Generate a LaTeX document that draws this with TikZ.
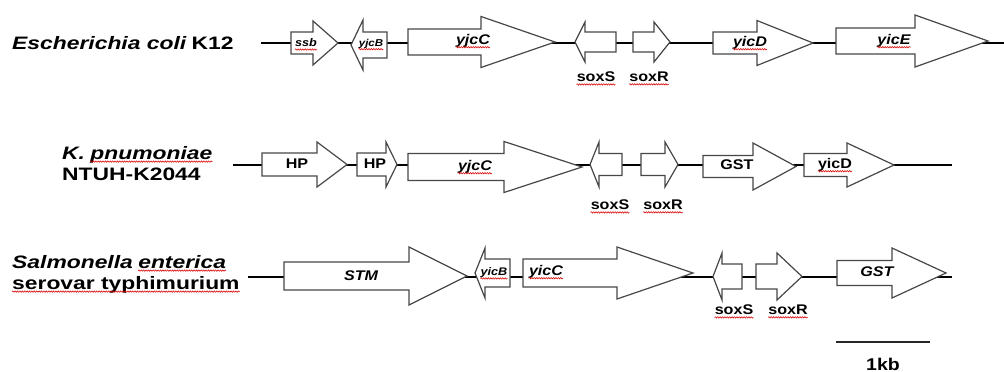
\documentclass[tikz,border=0pt]{standalone}
\usepackage{fontspec}
\setmainfont{Liberation Sans}
\newfontfamily\orgfont[FakeStretch=1.27]{Liberation Sans}
\newfontfamily\genefont[FakeStretch=1.15]{Liberation Sans}
\usetikzlibrary{decorations.pathmorphing}

\tikzset{
  backbone/.style={line width=2.5pt, draw=black},
  genebox/.style={draw=black!72, fill=white, line width=1.2pt, line join=miter},
  orglab/.style={inner sep=0pt, anchor=base west, font=\orgfont\bfseries\fontsize{18}{20}\selectfont},
  glab/.style={inner sep=0pt, font=\genefont\bfseries\fontsize{14}{16}\selectfont},
  glabi/.style={inner sep=0pt, font=\genefont\bfseries\itshape\fontsize{14}{16}\selectfont},
  glabs/.style={inner sep=0pt, font=\genefont\bfseries\itshape\fontsize{11}{13}\selectfont},
  squiggle/.style={draw=red!85!black, line width=0.55pt, decorate,
    decoration={snake, amplitude=0.7pt, segment length=2.4pt}},
  scalebar/.style={line width=2.6pt, draw=black!85}
}

% gene arrow: body end x, head base x, tip x, axis y, half body height, half head height
\newcommand\gene[6]{%
  \draw[genebox] ({#1},{#4-#5}) -- ({#2},{#4-#5}) -- ({#2},{#4-#6}) -- ({#3},{#4})
    -- ({#2},{#4+#6}) -- ({#2},{#4+#5}) -- ({#1},{#4+#5}) -- cycle;}
% red wavy underline below a named label
\newcommand\wavy[1]{\draw[squiggle] ([yshift=-2.6pt]#1.base west) -- ([yshift=-2.6pt]#1.base east);}

\begin{document}
\begin{tikzpicture}[x=1pt, y=-1pt]
\useasboundingbox (0,0) rectangle (1004,372);

% ---------- Escherichia coli K12 ----------
\node[orglab] (ecA) at (12,49) {\itshape Escherichia coli};
\node[orglab] (ecB) at ([xshift=5pt]ecA.base east) {K12};
\coordinate (r1s) at (261,43);
\coordinate (r1e) at (1004,43);
\draw[backbone] (r1s) -- (r1e);
\gene{291}{313}{338}{43}{11}{22}
\gene{387}{363}{351}{45}{13}{25}
\gene{408}{481}{555}{42}{13}{25.5}
\gene{616}{585}{575}{42}{10}{20}
\gene{633}{654}{670}{42}{10}{20}
\gene{713}{757}{813}{43}{11}{22.5}
\gene{836}{915}{988}{41}{13}{26}
\node[glabs] (ssb1) at (306,43) {ssb};
\node[glabs, font=\genefont\bfseries\itshape\fontsize{10}{12}\selectfont] (yjcB1) at (371,44) {yjcB};
\node[glabi] (yjcC1) at (473,41) {yjcC};
\node[glab] (soxS1) at (596,77) {soxS};
\node[glab] (soxR1) at (649,77) {soxR};
\node[glabi] (yicD1) at (750,43) {yicD};
\node[glabi] (yicE1) at (894,41) {yicE};
\foreach \n in {ssb1,yjcB1,yjcC1,soxS1,soxR1,yicD1,yicE1} {\wavy{\n}}

% ---------- K. pnumoniae NTUH-K2044 ----------
\node[orglab] (kpA) at (62,159) {\itshape K.};
\node[orglab] (kpB) at ([xshift=5pt]kpA.base east) {\itshape pnumoniae};
\node[orglab] (kpC) at (62,180) {NTUH-K2044};
\wavy{kpB}
\coordinate (r2s) at (233,165);
\coordinate (r2e) at (952,165);
\draw[backbone] (r2s) -- (r2e);
\gene{262}{317}{347}{164.5}{11.5}{22.5}
\gene{357}{386}{397}{164.5}{11.5}{22.5}
\gene{408}{504}{582}{167}{13.5}{25.5}
\gene{622}{599}{590}{164.5}{11}{22.5}
\gene{641}{665}{678}{164.5}{11}{22.5}
\gene{703}{753}{796}{166.5}{11}{23.5}
\gene{804}{847}{894}{165}{11.5}{22}
\node[glab] (hp1) at (297,164) {HP};
\node[glab] (hp2) at (375,164) {HP};
\node[glabi] (yjcC2) at (475,167) {yjcC};
\node[glab] (soxS2) at (610,205) {soxS};
\node[glab] (soxR2) at (663,205) {soxR};
\node[glab] (gst2) at (737,165) {GST};
\node[glab] (yicD2) at (835,165) {yicD};
\foreach \n in {yjcC2,soxS2,soxR2,yicD2} {\wavy{\n}}

% ---------- Salmonella enterica serovar typhimurium ----------
\node[orglab] (seA) at (12,268) {\itshape Salmonella};
\node[orglab] (seB) at ([xshift=5pt]seA.base east) {\itshape enterica};
\node[orglab] (seC) at (12,289) {serovar typhimurium};
\wavy{seB}
\wavy{seC}
\coordinate (r3s) at (248,277);
\coordinate (r3e) at (952,277);
\draw[backbone] (r3s) -- (r3e);
\gene{284}{409}{467}{276}{14}{29}
\gene{510}{485}{475}{273}{14}{25}
\gene{523}{617}{693}{273}{14}{26}
\gene{742}{722}{713}{276.5}{12.5}{23.5}
\gene{756}{777}{802}{276.5}{12.5}{23.5}
\gene{837}{892}{946}{273}{12.5}{25}
\node[glabi] (stm3) at (361,276) {STM};
\node[glabs] (yicB3) at (494,273) {yicB};
\node[glabi] (yicC3) at (546,272) {yicC};
\node[glab] (soxS3) at (734,310) {soxS};
\node[glab] (soxR3) at (788,310) {soxR};
\node[glabi] (gst3) at (877,272) {GST};
\foreach \n in {yicB3,yicC3,soxS3,soxR3} {\wavy{\n}}

% ---------- scale bar ----------
\coordinate (sbL) at (836,342);
\coordinate (sbR) at (930,342);
\draw[scalebar] (sbL) -- (sbR);
\node[glab, font=\genefont\bfseries\fontsize{17}{19}\selectfont] (kb) at (883,364) {1kb};
\end{tikzpicture}
\end{document}
